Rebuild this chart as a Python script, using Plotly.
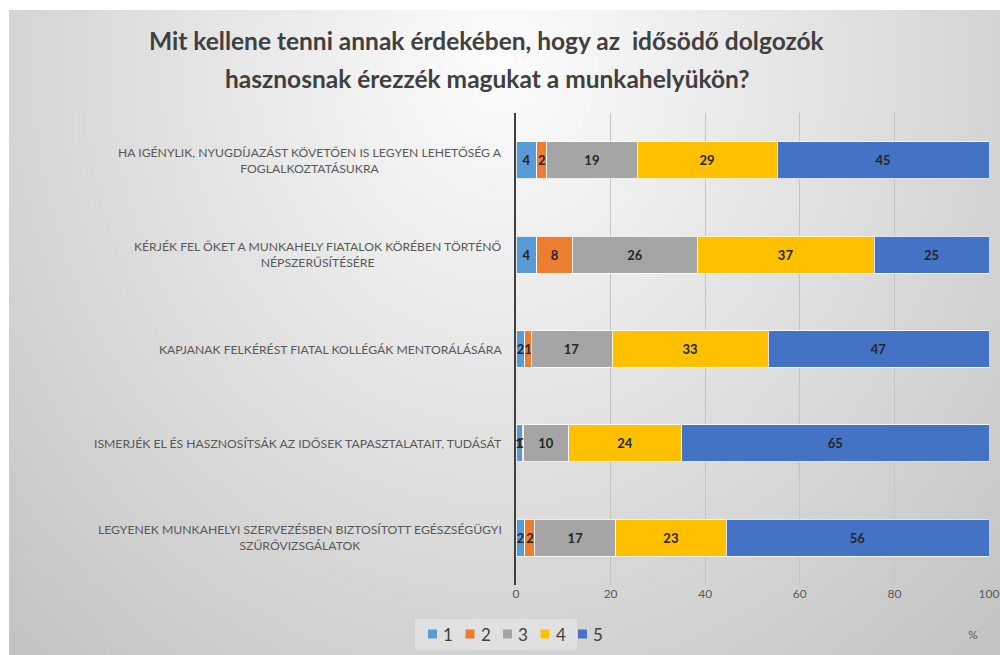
import base64, zlib, struct
import numpy as np
import plotly.graph_objects as go

categories = [
    "HA IGÉNYLIK, NYUGDÍJAZÁST KÖVETŐEN IS LEGYEN LEHETŐSÉG A<br>FOGLALKOZTATÁSUKRA",
    "KÉRJÉK FEL ŐKET A MUNKAHELY FIATALOK KÖRÉBEN TÖRTÉNŐ<br>NÉPSZERŰSÍTÉSÉRE",
    "KAPJANAK FELKÉRÉST FIATAL KOLLÉGÁK MENTORÁLÁSÁRA",
    "ISMERJÉK EL ÉS HASZNOSÍTSÁK AZ IDŐSEK TAPASZTALATAIT, TUDÁSÁT",
    "LEGYENEK MUNKAHELYI SZERVEZÉSBEN BIZTOSÍTOTT EGÉSZSÉGÜGYI<br>SZŰRŐVIZSGÁLATOK",
]
series_names = ["1", "2", "3", "4", "5"]
s1 = [4.4, 4.4, 1.9, 1.3, 1.9]
s2 = [2.1, 7.6, 1.3, 0.3, 2.1]
s3 = [19.1, 26.3, 17.1, 9.5, 17.1]
s4 = [29.6, 37.4, 33.0, 23.9, 23.3]
s5 = [44.8, 24.3, 46.7, 65.0, 55.6]
labels = [
    [4, 4, 2, 1, 2],
    [2, 8, 1, 0, 2],
    [19, 26, 17, 10, 17],
    [29, 37, 33, 24, 23],
    [45, 25, 47, 65, 56],
]
colors = ["#5B9BD5", "#ED7D31", "#A5A5A5", "#FFC000", "#4472C4"]
x_ticks = [0, 20, 40, 60, 80, 100]
title_lines = ["Mit kellene tenni annak érdekében, hogy az  idősödő dolgozók",
               "hasznosnak érezzék magukat a munkahelyükön?"]
unit_label = "%"

series = [s1, s2, s3, s4, s5]

# --- background gradient image ---
W, H = 250, 162
yy, xx = np.mgrid[0:H, 0:W]
px = 9 + xx * (991 / W)
py = 10 + yy * (645 / H)
d = np.sqrt(((px - 500) / 620) ** 2 + ((py - 60) / 700) ** 2)
d = np.clip(d, 0, 1.15)
val = (253 - 50 * d).astype(np.uint8)
arr = np.stack([val, val, val], axis=-1)

def make_png(a):
    h, w, _ = a.shape
    raw = b"".join(b"\x00" + a[i].tobytes() for i in range(h))
    def chunk(t, data):
        c = struct.pack(">I", len(data)) + t + data
        return c + struct.pack(">I", zlib.crc32(t + data) & 0xFFFFFFFF)
    return (b"\x89PNG\r\n\x1a\n" + chunk(b"IHDR", struct.pack(">IIBBBBB", w, h, 8, 2, 0, 0, 0))
            + chunk(b"IDAT", zlib.compress(raw, 9)) + chunk(b"IEND", b""))

img_src = "data:image/png;base64," + base64.b64encode(make_png(arr)).decode()

fig = go.Figure()
for name, vals, lab, col in zip(series_names, series, labels, colors):
    fig.add_trace(go.Bar(
        y=categories, x=vals, name=name, orientation="h",
        marker=dict(color=col, line=dict(color="rgba(255,255,255,0.8)", width=1)),
        text=[str(v) for v in lab], textposition="inside", insidetextanchor="middle",
        textangle=0, constraintext="none",
        textfont=dict(family="Lato", size=13, color="#262626", weight="bold"),
        showlegend=False,
    ))

L, R, T, B = 516, 11, 113, 70
pw, ph = 1000 - L - R, 655 - T - B

def pxx(x):
    return (x - L) / pw

def pxy(y):
    return (655 - B - y) / ph

shapes = [dict(type="rect", xref="paper", yref="paper", x0=pxx(415), x1=pxx(577),
               y0=pxy(650), y1=pxy(619), fillcolor="rgba(255,255,255,0.3)", line=dict(width=0),
               layer="below")]
for i, col in enumerate(colors):
    x0 = 428 + i * 37.5
    shapes.append(dict(type="rect", xref="paper", yref="paper", x0=pxx(x0), x1=pxx(x0 + 9),
                       y0=pxy(638.5), y1=pxy(629.5), fillcolor=col, line=dict(width=0)))

fig.update_layout(
    barmode="stack",
    bargap=0.61,
    width=1000, height=655,
    margin=dict(l=L, r=R, t=T, b=B, autoexpand=False),
    paper_bgcolor="white",
    plot_bgcolor="rgba(0,0,0,0)",
    uniformtext=dict(minsize=13, mode="show"),
    xaxis=dict(range=[0, 100], tickvals=x_ticks, showgrid=True, gridcolor="#C4C4C4", gridwidth=1,
               zeroline=False, showline=False, ticks="", automargin=False,
               tickfont=dict(family="Lato", size=12, color="#595959")),
    yaxis=dict(categoryorder="array", categoryarray=categories, autorange="reversed",
               showticklabels=False, showline=True, linecolor="#404040", linewidth=2,
               ticks="", showgrid=False, automargin=False),
    showlegend=False,
    images=[dict(source=img_src, xref="paper", yref="paper",
                 x=pxx(9), y=pxy(10), sizex=991 / pw, sizey=645 / ph,
                 sizing="stretch", xanchor="left", yanchor="top", layer="below")],
    shapes=shapes,
)

# title (two lines, Office-like line spacing)
for line, ty in zip(title_lines, [41, 79]):
    fig.add_annotation(x=pxx(487), y=pxy(ty), xref="paper", yref="paper", text=f"<b>{line}</b>",
                       xanchor="center", yanchor="middle", showarrow=False,
                       font=dict(family="Lato", size=24.5, color="#404040"))

for cat in categories:
    fig.add_annotation(x=0, y=cat, xref="x", yref="y", text=cat, showarrow=False,
                       xanchor="right", xshift=-12, align="center",
                       font=dict(family="Lato", size=12.2, color="#595959"))

# compact legend texts
for i, name in enumerate(series_names):
    fig.add_annotation(x=pxx(441 + i * 37.5), y=pxy(634), xref="paper", yref="paper",
                       xanchor="left", yanchor="middle", showarrow=False, text=name,
                       font=dict(family="Lato", size=17, color="#404040"))

fig.add_annotation(x=pxx(973), y=pxy(634), xref="paper", yref="paper", text=unit_label,
                   xanchor="center", yanchor="middle",
                   showarrow=False, font=dict(family="Lato", size=12, color="#595959"))

fig.write_html("out.html", post_script="document.body.style.margin='0';",
               config={"displayModeBar": False})
